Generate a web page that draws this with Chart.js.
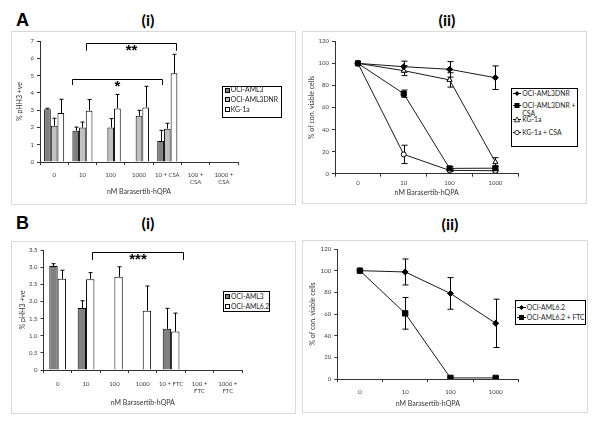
<!DOCTYPE html>
<html>
<head>
<meta charset="utf-8">
<script src="https://cdn.jsdelivr.net/npm/chart.js@4.4.1/dist/chart.umd.min.js"></script>
<style>
  body { margin: 0; background: #fff; }
  #page { position: relative; width: 600px; height: 423px; background: #fff; overflow: hidden; font-family: Lato, sans-serif; }
  .box { position: absolute; border: 1px solid #d9d9d9; box-sizing: border-box; }
  #page canvas { position: absolute; }
  .head { position: absolute; font-weight: bold; line-height: 1; color: #000; white-space: nowrap; }
  .letter { font-family: "Liberation Sans", Arial, sans-serif; font-size: 18px; }
  .roman { font-family: Lato, sans-serif; font-size: 16px; transform: translateX(-50%); }
  .legend { position: absolute; border: 1px solid #000; background: #fff; box-sizing: border-box; font-size: 6.8px; color: #222; }
  .lrow { position: absolute; display: flex; align-items: flex-start; white-space: nowrap; line-height: 7.4px; }
  .lrow svg, .lrow i { flex: none; margin-right: 1px; }
</style>
</head>
<body>
<div id="page">
  <div class="head letter" style="left:16px;top:11px">A</div>
  <div class="head roman" style="left:148px;top:11.5px">(i)</div>
  <div class="head roman" style="left:447px;top:11.5px">(ii)</div>
  <div class="head letter" style="left:16px;top:214px">B</div>
  <div class="head roman" style="left:148px;top:215px">(i)</div>
  <div class="head roman" style="left:450px;top:216px">(ii)</div>
</div>
<script>
// panel A(i): % pHH3 +ve by dose
const barLabelsA = ['0', '10', '100', '1000', '10 + CSA', ['100 +', 'CSA'], ['1000 +', 'CSA']];
const aml3A = [3.05, 1.81, null, null, 1.21, null, null];
const aml3ErrA = [0.06, 0.21, null, null, 0.62, null, null];
const dnrA = [2.10, 2.00, 2.00, 2.68, 1.93, null, null];
const dnrErrA = [0.43, 0.31, 0.51, 0.31, 0.31, null, null];
const kgA = [2.83, 2.97, 3.10, 3.16, 5.13, null, null];
const kgErrA = [0.80, 0.64, 0.81, 1.22, 1.10, null, null];

// panel A(ii): % of control viable cells
const doseLabels = ['0', '10', '100', '1000'];
const dnrViab = [100, 97, 94.6, 87];
const dnrViabErr = [0, 5, 7, 10.7];
const dnrCsaViab = [100, 72.5, 4.8, 5];
const dnrCsaViabErr = [0, 3.3, 1.5, 2];
const kgViab = [100, 93.4, 85, 10.5];
const kgViabErr = [0, 4.5, 6.5, 4];
const kgCsaViab = [100, 17.5, 3, 2.7];
const kgCsaViabErr = [0, 8.3, 1, 1];

// panel B(i)
const barLabelsB = ['0', '10', '100', '1000', '10 + FTC', ['100 +', 'FTC'], ['1000 +', 'FTC']];
const aml3B = [3.03, 1.81, null, null, 1.20, null, null];
const aml3ErrB = [0.07, 0.21, null, null, 0.60, null, null];
const aml62B = [2.66, 2.65, 2.72, 1.73, 1.12, null, null];
const aml62ErrB = [0.25, 0.19, 0.29, 0.72, 0.54, null, null];

// panel B(ii)
const aml62Viab = [100, 98.8, 79, 51.4];
const aml62ViabErr = [0, 12, 14.6, 22.3];
const aml62FtcViab = [100, 60.6, 1, 1];
const aml62FtcViabErr = [0, 14.6, 0, 0];

// significance brackets (x in category units, y in axis units)
const bracketsA = [
  { from: 0.62, to: 3.82, y: 4.80, leg: 4.45, text: '*' },
  { from: 1.13, to: 4.31, y: 6.86, leg: 6.44, text: '**' }
];
const bracketsB = [
  { from: 1.22, to: 4.42, y: 3.43, leg: 3.21, text: '***' }
];

Chart.defaults.font.family = 'Lato, sans-serif';
Chart.defaults.color = '#404040';

const page = document.getElementById('page');
const axisColor = '#333';
const tickFont = { size: 6 };
const titleFont = { size: 7 };

const errorBarPlugin = {
  id: 'errorBars',
  beforeDatasetsDraw(chart) {
    const ctx = chart.ctx;
    const yScale = chart.scales.y;
    chart.data.datasets.forEach((ds, di) => {
      if (!ds.errors) return;
      const meta = chart.getDatasetMeta(di);
      ctx.save();
      ctx.strokeStyle = '#000';
      ctx.lineWidth = 1;
      meta.data.forEach((el, i) => {
        const v = ds.data[i];
        const e = ds.errors[i];
        if (v == null || !e) return;
        const x = Math.round(el.x) + 0.5;
        const top = yScale.getPixelForValue(v + e);
        const bottom = yScale.getPixelForValue(ds.errorBoth ? v - e : v);
        const cap = ds.errorCap;
        ctx.beginPath();
        ctx.moveTo(x, top);
        ctx.lineTo(x, bottom);
        ctx.moveTo(x - cap, top);
        ctx.lineTo(x + cap, top);
        if (ds.errorBoth) {
          ctx.moveTo(x - cap, bottom);
          ctx.lineTo(x + cap, bottom);
        }
        ctx.stroke();
      });
      ctx.restore();
    });
  }
};

function bracketPlugin(items) {
  return {
    id: 'brackets',
    afterDatasetsDraw(chart) {
      const ctx = chart.ctx;
      const xs = chart.scales.x;
      const ys = chart.scales.y;
      ctx.save();
      ctx.strokeStyle = '#000';
      ctx.lineWidth = 1;
      ctx.fillStyle = '#000';
      ctx.font = 'bold 15px "Liberation Sans", Arial, sans-serif';
      ctx.textAlign = 'center';
      ctx.textBaseline = 'alphabetic';
      items.forEach(b => {
        const x1 = Math.round(xs.getPixelForValue(b.from)) + 0.5;
        const x2 = Math.round(xs.getPixelForValue(b.to)) + 0.5;
        const y = Math.round(ys.getPixelForValue(b.y)) + 0.5;
        const yl = ys.getPixelForValue(b.leg);
        ctx.beginPath();
        ctx.moveTo(x1, yl);
        ctx.lineTo(x1, y);
        ctx.lineTo(x2, y);
        ctx.lineTo(x2, yl);
        ctx.stroke();
        ctx.fillText(b.text, (x1 + x2) / 2, y + 11.5);
      });
      ctx.restore();
    }
  };
}

// box = panel frame, plot = wanted chart area, both in page pixels
function addPanel(box, plot, titles, build) {
  const frame = document.createElement('div');
  frame.className = 'box';
  Object.assign(frame.style, { left: box.l + 'px', top: box.t + 'px', width: box.w + 'px', height: box.h + 'px' });
  page.appendChild(frame);

  const canvas = document.createElement('canvas');
  canvas.width = box.w;
  canvas.height = box.h;
  canvas.style.left = box.l + 'px';
  canvas.style.top = box.t + 'px';
  page.appendChild(canvas);

  const fit = {
    top: plot.t - box.t,
    right: box.w - (plot.r - box.l),
    yWidth: plot.l - box.l,
    xHeight: box.h - (plot.b - box.t)
  };
  const scales = {
    x: {
      offset: true,
      grid: { display: true, drawOnChartArea: false, offset: true, tickLength: 3, color: axisColor },
      border: { color: axisColor },
      ticks: { font: tickFont, padding: titles.xTickPad, maxRotation: 0, autoSkip: false },
      title: { display: true, text: 'nM Barasertib-hQPA', font: titleFont, color: '#333', padding: { top: 0, bottom: titles.xPad } },
      afterFit: s => { s.height = fit.xHeight; }
    },
    y: {
      min: 0,
      max: titles.yMax,
      grid: { drawOnChartArea: false, tickLength: 3, color: axisColor },
      border: { color: axisColor },
      ticks: { stepSize: titles.yStep, font: tickFont, padding: 3 },
      title: { display: true, text: titles.y, font: titleFont, color: '#333', padding: { top: titles.yPad, bottom: 0 } },
      afterFit: s => { s.width = fit.yWidth; }
    }
  };
  const cfg = build(scales);
  cfg.options = Object.assign({
    responsive: false,
    animation: false,
    devicePixelRatio: 1,
    layout: { padding: { left: 0, top: fit.top, right: fit.right, bottom: 0 } },
    plugins: { legend: { display: false }, tooltip: { enabled: false } },
    scales: scales
  }, cfg.options || {});
  return new Chart(canvas, cfg);
}

function barSwatch(color) {
  return '<i style="display:inline-block;width:3px;height:3px;border:1px solid #000;background:' + color + ';margin-top:1.2px"></i>';
}

function lineSwatch(shape, w) {
  const c = w / 2;
  let mark = '';
  if (shape === 'diamond') mark = '<polygon points="' + c + ',1 ' + (c + 2.5) + ',3.5 ' + c + ',6 ' + (c - 2.5) + ',3.5" fill="#000"/>';
  if (shape === 'square') mark = '<rect x="' + (c - 2.5) + '" y="1" width="5" height="5" fill="#000"/>';
  if (shape === 'triangle') mark = '<polygon points="' + c + ',1 ' + (c + 2.6) + ',5.8 ' + (c - 2.6) + ',5.8" fill="#fff" stroke="#000" stroke-width="0.8"/>';
  if (shape === 'circle') mark = '<circle cx="' + c + '" cy="3.5" r="2.2" fill="#fff" stroke="#000" stroke-width="0.8"/>';
  return '<svg width="' + w + '" height="7" style="margin-top:0.2px"><line x1="0" y1="3.5" x2="' + w + '" y2="3.5" stroke="#000" stroke-width="1"/>' + mark + '</svg>';
}

function addLegend(l, t, w, h, rows) {
  const box = document.createElement('div');
  box.className = 'legend';
  Object.assign(box.style, { left: l + 'px', top: t + 'px', width: w + 'px', height: h + 'px' });
  rows.forEach(r => {
    const row = document.createElement('div');
    row.className = 'lrow';
    row.style.left = r.x + 'px';
    row.style.top = (r.y - t - 1 - 3.7) + 'px';
    row.innerHTML = r.swatch + '<span>' + r.text + '</span>';
    box.appendChild(row);
  });
  page.appendChild(box);
}

// ---- A(i) ----
addPanel({ l: 11, t: 31, w: 285, h: 174 }, { l: 40, t: 41, r: 238, b: 162 },
  { y: '% pHH3 +ve', yMax: 7, yStep: 1, yPad: 4.8, xPad: 9, xTickPad: 6 },
  scales => ({
    type: 'bar',
    data: {
      labels: barLabelsA,
      datasets: [
        { label: 'OCI-AML3', data: aml3A, errors: aml3ErrA, errorCap: 2, backgroundColor: '#808080', borderColor: '#000', borderWidth: 1 },
        { label: 'OCI-AML3DNR', data: dnrA, errors: dnrErrA, errorCap: 2, backgroundColor: '#c0c0c0', borderColor: '#000', borderWidth: 1 },
        { label: 'KG-1a', data: kgA, errors: kgErrA, errorCap: 2, backgroundColor: '#ffffff', borderColor: '#000', borderWidth: 1 }
      ]
    },
    options: { datasets: { bar: { categoryPercentage: 0.71, barPercentage: 1 } } },
    plugins: [errorBarPlugin, bracketPlugin(bracketsA)]
  }));

addLegend(222, 86, 60, 31.5, [
  { x: 1.7, y: 90, swatch: barSwatch('#808080'), text: 'OCI-AML3' },
  { x: 1.7, y: 100, swatch: barSwatch('#c0c0c0'), text: 'OCI-AML3DNR' },
  { x: 1.7, y: 109.5, swatch: barSwatch('#ffffff'), text: 'KG-1a' }
]);

// ---- A(ii) ----
function lineSet(label, data, errors, style, radius, fill) {
  return {
    label: label, data: data, errors: errors, errorBoth: true, errorCap: 3,
    borderColor: '#1a1a1a', borderWidth: 1, tension: 0,
    pointStyle: style, pointRadius: radius, pointBackgroundColor: fill,
    pointBorderColor: '#000', pointBorderWidth: 1
  };
}

addPanel({ l: 302, t: 31, w: 285, h: 173 }, { l: 335, t: 41.3, r: 518.3, b: 173.7 },
  { y: '% of con. viable cells', yMax: 120, yStep: 20, yPad: 5.5, xPad: 7, xTickPad: 3 },
  scales => ({
    type: 'line',
    data: {
      labels: doseLabels,
      datasets: [
        lineSet('OCI-AML3DNR', dnrViab, dnrViabErr, 'rectRot', 3, '#000'),
        lineSet('OCI-AML3DNR + CSA', dnrCsaViab, dnrCsaViabErr, 'rect', 3.6, '#000'),
        lineSet('KG-1a', kgViab, kgViabErr, 'triangle', 3, '#fff'),
        lineSet('KG-1a + CSA', kgCsaViab, kgCsaViabErr, 'circle', 2.5, '#fff')
      ]
    },
    plugins: [errorBarPlugin]
  }));

addLegend(511, 88.3, 67, 58.5, [
  { x: 1.3, y: 94, swatch: lineSwatch('diamond', 8), text: 'OCI-AML3DNR' },
  { x: 1.3, y: 106, swatch: lineSwatch('square', 8), text: 'OCI-AML3DNR +<br>CSA' },
  { x: 1.3, y: 119.5, swatch: lineSwatch('triangle', 8), text: 'KG-1a' },
  { x: 1.3, y: 132.3, swatch: lineSwatch('circle', 8), text: 'KG-1a + CSA' }
]);

// ---- B(i) ----
addPanel({ l: 11, t: 241, w: 285, h: 173 }, { l: 43.5, t: 250, r: 242, b: 370 },
  { y: '% pHH3 +ve', yMax: 3.5, yStep: 0.5, yPad: 7.5, xPad: 7.5, xTickPad: 7 },
  scales => ({
    type: 'bar',
    data: {
      labels: barLabelsB,
      datasets: [
        { label: 'OCI-AML3', data: aml3B, errors: aml3ErrB, errorCap: 2, backgroundColor: '#808080', borderColor: '#000', borderWidth: 1 },
        { label: 'OCI-AML6.2', data: aml62B, errors: aml62ErrB, errorCap: 2, backgroundColor: '#ffffff', borderColor: '#000', borderWidth: 1 }
      ]
    },
    options: { datasets: { bar: { categoryPercentage: 0.59, barPercentage: 1 } } },
    plugins: [errorBarPlugin, bracketPlugin(bracketsB)]
  }));

addLegend(222.5, 291, 47, 21, [
  { x: 1.5, y: 297, swatch: barSwatch('#808080'), text: 'OCI-AML3' },
  { x: 1.5, y: 306.5, swatch: barSwatch('#ffffff'), text: 'OCI-AML6.2' }
]);

// ---- B(ii) ----
addPanel({ l: 302, t: 240, w: 286, h: 173 }, { l: 337.3, t: 249, r: 518.3, b: 379 },
  { y: '% of con. viable cells', yMax: 120, yStep: 20, yPad: 7, xPad: 5.5, xTickPad: 6 },
  scales => ({
    type: 'line',
    data: {
      labels: doseLabels,
      datasets: [
        lineSet('OCI-AML6.2', aml62Viab, aml62ViabErr, 'rectRot', 3, '#000'),
        lineSet('OCI-AML6.2 + FTC', aml62FtcViab, aml62FtcViabErr, 'rect', 3.8, '#000')
      ]
    },
    plugins: [errorBarPlugin]
  }));

addLegend(515, 300, 70.5, 24.5, [
  { x: 0.7, y: 307.7, swatch: lineSwatch('diamond', 9), text: 'OCI-AML6.2' },
  { x: 0.7, y: 317.3, swatch: lineSwatch('square', 9), text: 'OCI-AML6.2 + FTC' }
]);
</script>
</body>
</html>
